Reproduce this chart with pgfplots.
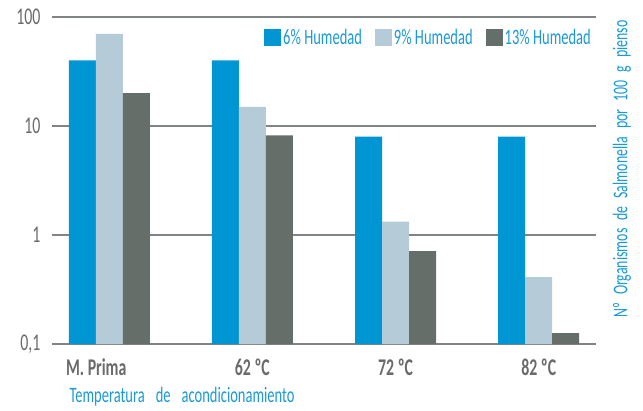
\documentclass[border=0pt]{standalone}
\usepackage{fontspec}
\setmainfont{Carlito}[FakeStretch=0.66]
\usepackage{pgfplots}
\pgfplotsset{compat=1.18}
\definecolor{cblue}{HTML}{0096D3}
\definecolor{clight}{HTML}{B6CBD8}
\definecolor{cdark}{HTML}{666E69}
\definecolor{ctext}{HTML}{1B9AD6}
\definecolor{cgray}{HTML}{6A6A6A}
\definecolor{cgrid}{HTML}{808484}
\begin{document}
\begin{tikzpicture}[x=1pt,y=1pt]
\begin{axis}[
  scale only axis,
  width=544pt, height=327pt,
  ymode=log, log origin=infty,
  ymin=0.1, ymax=100,
  xmin=-0.4, xmax=3.4,
  ybar=0pt,
  bar width=27pt,
  xtick={0,1,2,3},
  xticklabels={\hspace*{-26pt}M. Prima,62 ºC,72 ºC,82 ºC},
  ytick={0.1,1,10,100},
  yticklabels={0{,}1,1,10,100},
  /pgf/number format/assume math mode=true,
  x tick label style={font=\fontsize{24}{26}\selectfont\bfseries, text=cgray, yshift=-11pt},
  y tick label style={font=\fontsize{24}{26}\selectfont, text=cgray, xshift=-8pt},
  major tick length=0pt,
  minor tick num=0,
  yminorticks=false,
  axis line style={draw=none},
  ymajorgrids,
  major grid style={cgrid, line width=1.3pt},
  legend columns=3,
  legend style={draw=none, fill=none, at={(1,0.975)}, anchor=north east,
    font=\fontsize{22}{24}\selectfont, text=ctext,
    /tikz/every even column/.append style={column sep=11pt}},
  legend image code/.code={\fill[#1,draw=none] (0pt,-8.5pt) rectangle (17pt,8.5pt);},
]
\addplot[fill=cblue, draw=none] coordinates {(0,40) (1,40) (2,8.0) (3,8.0)};
\addplot[fill=clight, draw=none] coordinates {(0,70) (1,15) (2,1.33) (3,0.41)};
\addplot[fill=cdark, draw=none] coordinates {(0,20) (1,8.2) (2,0.71) (3,0.126)};
\legend{6\% Humedad, 9\% Humedad, 13\% Humedad}
\coordinate (O) at (rel axis cs:0,0);
\end{axis}
\node[anchor=west, text=ctext, font=\fontsize{22}{24}\selectfont] at ([xshift=14pt,yshift=-53pt]O) {Temperatura\hspace{11pt}de\hspace{11pt}acondicionamiento};
\node[rotate=90, text=ctext, font=\fontsize{21}{23}\selectfont] at ([xshift=570pt,yshift=175pt]O) {Nº\hspace{8pt}Organismos\hspace{8pt}de\hspace{8pt}Salmonella\hspace{8pt}por\hspace{8pt}100\hspace{8pt}g\hspace{8pt}pienso};
\pgfresetboundingbox
\path (O) ++(-52pt,-66pt) rectangle ++(643pt,410pt);
\end{tikzpicture}
\end{document}
